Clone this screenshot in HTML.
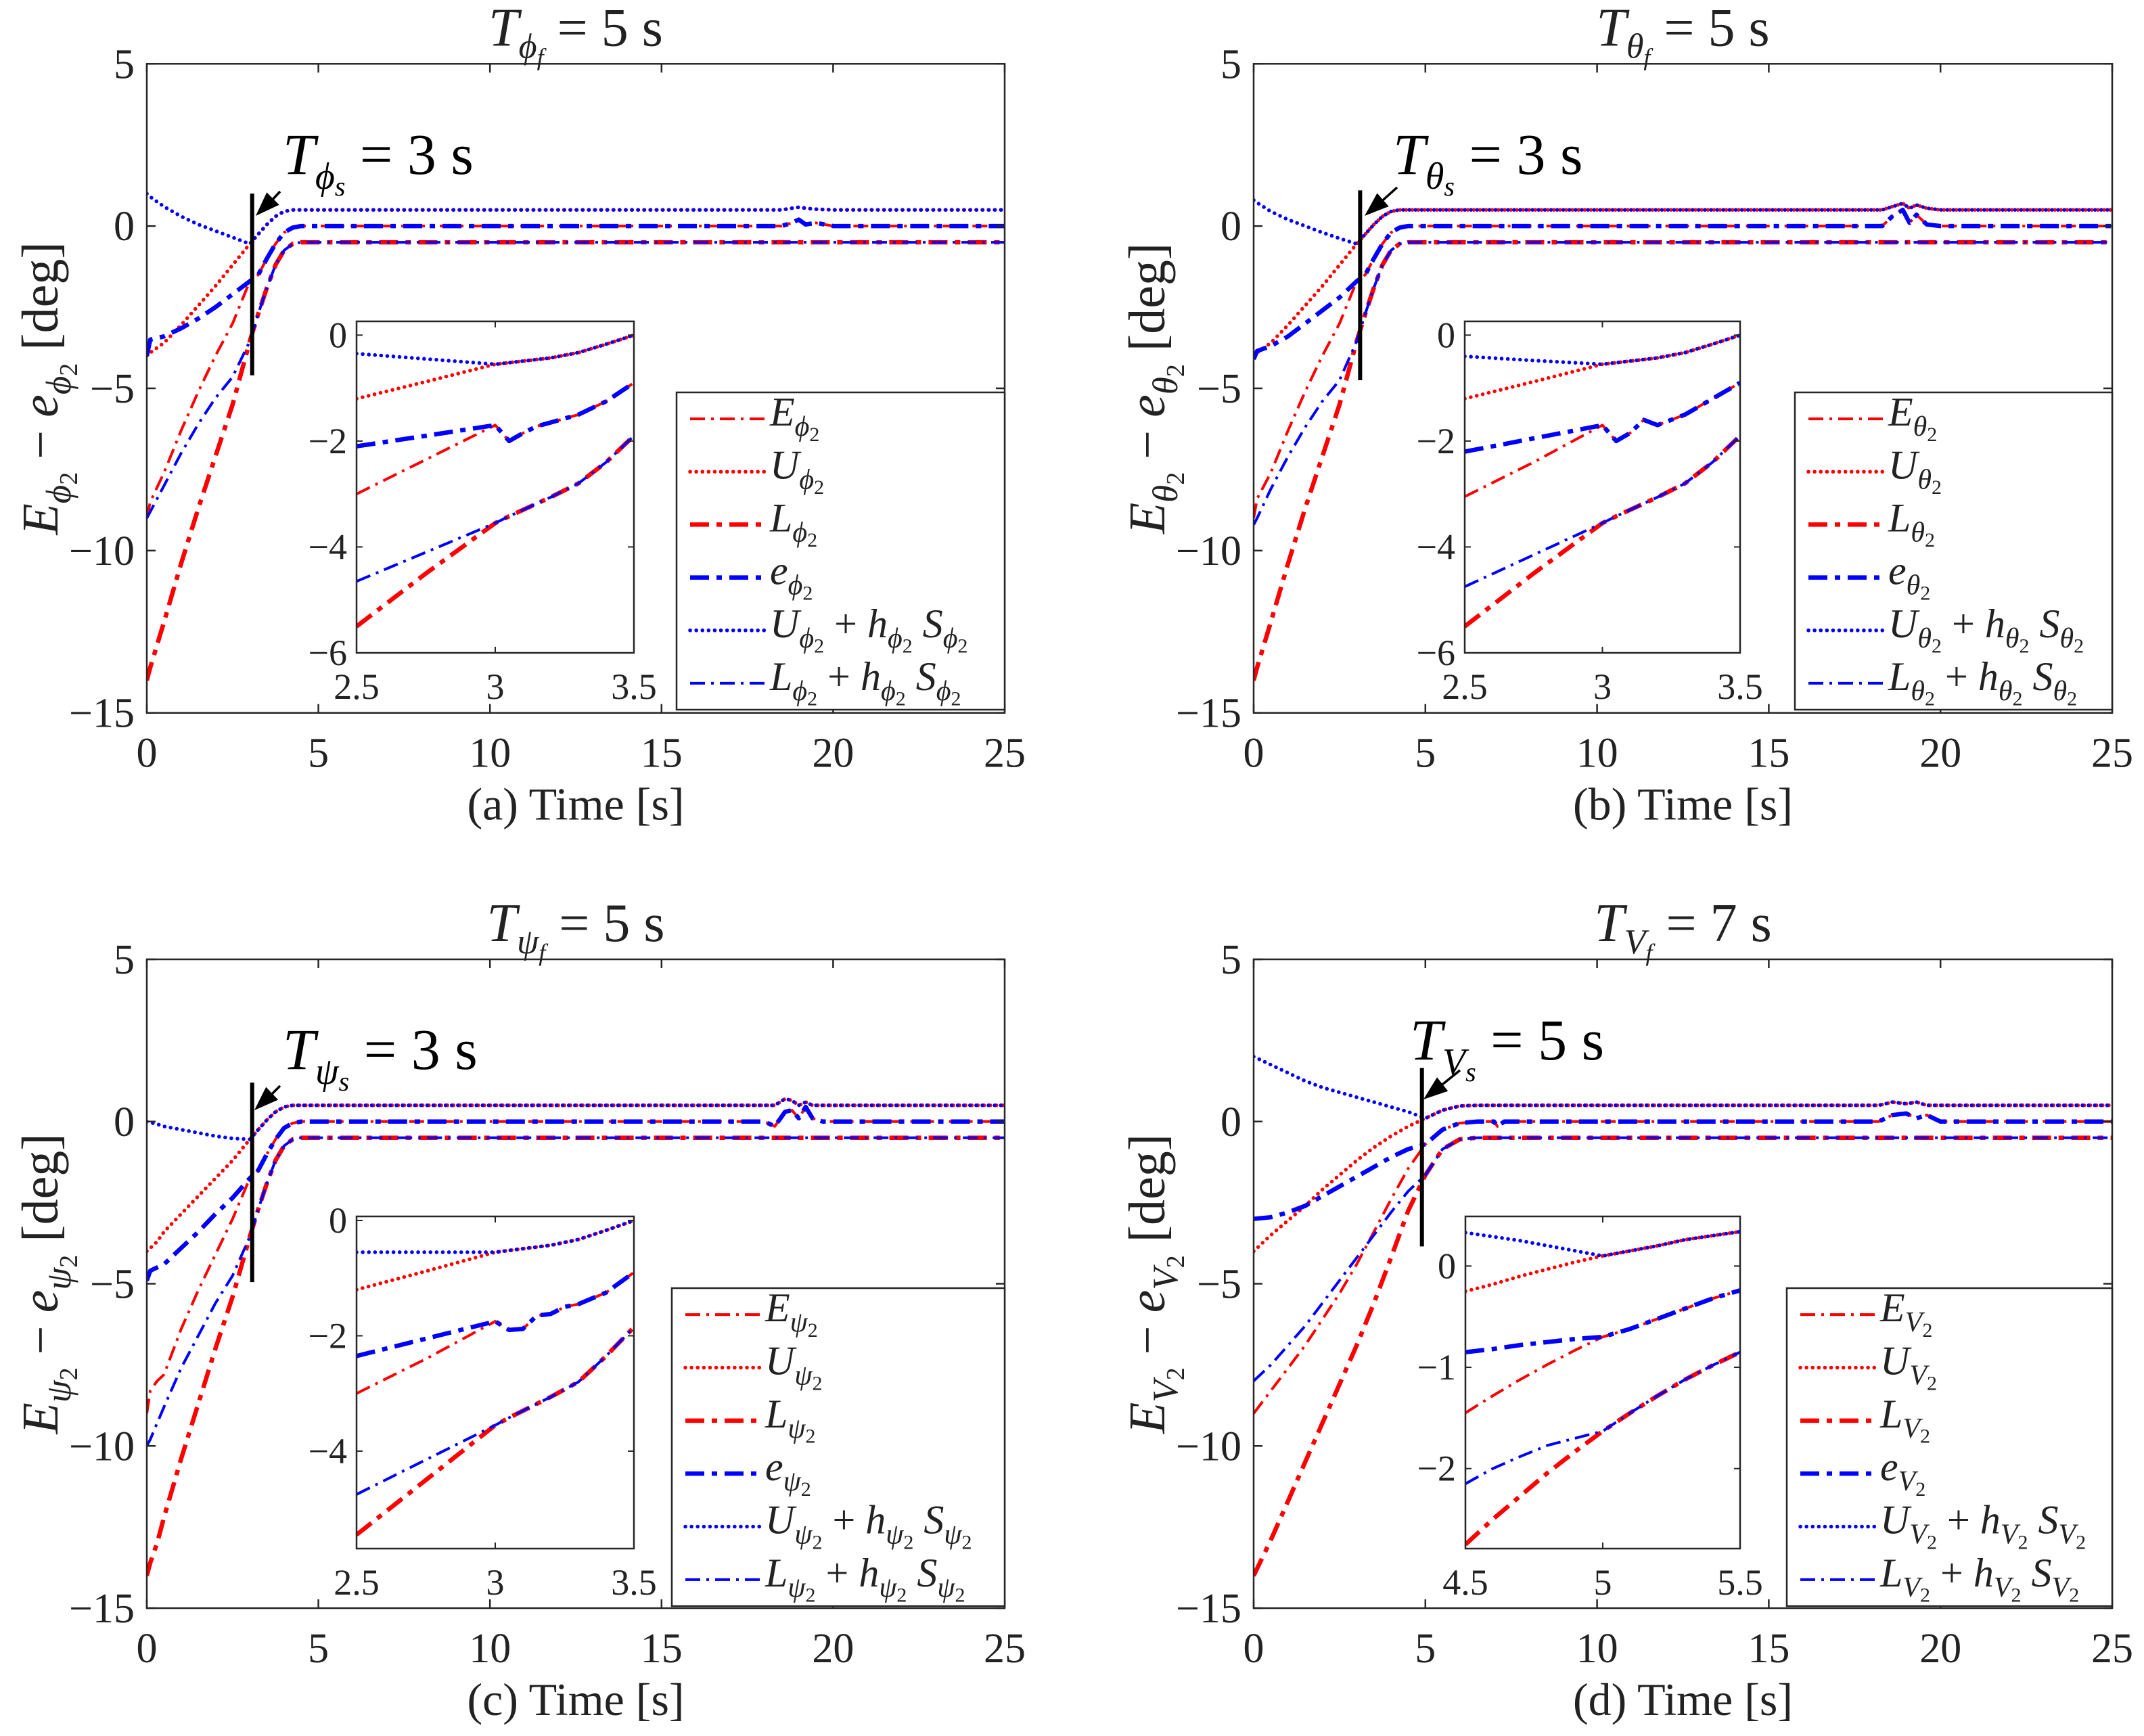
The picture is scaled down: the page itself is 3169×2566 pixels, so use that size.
<!DOCTYPE html>
<html><head><meta charset="utf-8"><style>
html,body{margin:0;padding:0;background:#fff}
svg{display:block}
text{font-family:"Liberation Serif","Times New Roman",serif;fill:#222}
</style></head><body>
<svg id="root" xmlns="http://www.w3.org/2000/svg" width="3169" height="2566" viewBox="0 0 3169 2566" font-family="Liberation Serif, serif"></svg>
<script>
// ---------- DATA ----------
const tA=[0,0.1,0.5,1,1.5,2,2.5,3,3.25,3.5,3.75,4,4.25,4.5,18.5,18.8,19,19.2,19.5,20,25];
const U_A=[-4,-3.9,-3.6,-3.05,-2.45,-1.85,-1.2,-0.55,-0.25,0.05,0.3,0.45,0.5,0.5,0.5,0.55,0.58,0.55,0.52,0.5,0.5];
const UhS_A=[1,0.9,0.6,0.3,0.05,-0.15,-0.35,-0.55,-0.25,0.05,0.3,0.45,0.5,0.5,0.5,0.55,0.58,0.55,0.52,0.5,0.5];
const E_A=[-9,-8.5,-7.6,-6.3,-5.1,-4.0,-3.0,-1.7,-1.5,-1.0,-0.55,-0.2,-0.05,0,0,0.1,0.2,0.05,0.1,0,0];
const e_A=[-4,-3.5,-3.4,-3.15,-2.85,-2.5,-2.1,-1.7,-1.5,-1.0,-0.55,-0.2,-0.05,0,0,0.1,0.2,0.05,0.1,0,0];
const L_A=[-14,-13.6,-12.2,-10.4,-8.7,-7.1,-5.5,-3.55,-2.7,-1.9,-1.2,-0.75,-0.55,-0.5,-0.5,-0.5,-0.5,-0.5,-0.5,-0.5,-0.5];
const LhS_A=[-9,-8.8,-8.0,-7.0,-6.1,-5.3,-4.65,-3.55,-2.7,-1.9,-1.2,-0.75,-0.55,-0.5,-0.5,-0.5,-0.5,-0.5,-0.5,-0.5,-0.5];

const tB=[0,0.1,0.5,1,1.5,2,2.5,3,3.25,3.5,3.75,4,4.25,4.5,18.3,18.6,18.9,19.1,19.3,19.6,20,25];
const U_B=[-4,-3.9,-3.6,-3.05,-2.45,-1.85,-1.2,-0.55,-0.25,0.05,0.3,0.45,0.5,0.5,0.5,0.6,0.7,0.55,0.65,0.55,0.5,0.5];
const UhS_B=[0.8,0.72,0.45,0.2,0,-0.2,-0.38,-0.55,-0.25,0.05,0.3,0.45,0.5,0.5,0.5,0.6,0.7,0.55,0.65,0.55,0.5,0.5];
const E_B=[-9,-8.4,-7.6,-6.3,-5.1,-4.0,-3.0,-1.7,-1.5,-1.0,-0.55,-0.2,-0.05,0,0,0.3,0.5,0.1,0.35,0.05,0,0];
const e_B=[-4.1,-3.85,-3.7,-3.4,-3.0,-2.6,-2.2,-1.7,-1.5,-1.0,-0.55,-0.2,-0.05,0,0,0.3,0.5,0.1,0.35,0.05,0,0];
const L_B=[-14,-13.6,-12.2,-10.4,-8.7,-7.1,-5.5,-3.55,-2.7,-1.9,-1.2,-0.75,-0.55,-0.5,-0.5,-0.5,-0.5,-0.5,-0.5,-0.5,-0.5,-0.5];
const LhS_B=[-9.2,-9.0,-8.1,-7.1,-6.2,-5.4,-4.75,-3.55,-2.7,-1.9,-1.2,-0.75,-0.55,-0.5,-0.5,-0.5,-0.5,-0.5,-0.5,-0.5,-0.5,-0.5];

const tC=[0,0.1,0.3,0.5,1,1.5,2,2.5,3,3.25,3.5,3.75,4,4.25,4.5,18,18.3,18.6,18.8,19,19.2,19.4,19.7,20,25];
const U_C=[-4,-3.9,-3.7,-3.4,-2.85,-2.3,-1.75,-1.2,-0.55,-0.25,0.05,0.3,0.45,0.5,0.5,0.5,0.5,0.7,0.65,0.5,0.6,0.5,0.5,0.5,0.5];
const UhS_C=[0,-0.03,-0.08,-0.15,-0.25,-0.35,-0.45,-0.52,-0.55,-0.25,0.05,0.3,0.45,0.5,0.5,0.5,0.5,0.7,0.65,0.5,0.6,0.5,0.5,0.5,0.5];
const E_C=[-9,-8.3,-8.0,-7.8,-6.4,-5.2,-4.1,-3.0,-1.75,-1.5,-1.0,-0.55,-0.2,-0.05,0,0,-0.15,0.3,0.35,0.1,0.45,0.1,0,0,0];
const e_C=[-4.9,-4.6,-4.5,-4.4,-3.9,-3.4,-2.85,-2.35,-1.75,-1.5,-1.0,-0.55,-0.2,-0.05,0,0,-0.15,0.3,0.35,0.1,0.45,0.1,0,0,0];
const L_C=[-14,-13.6,-13.0,-12.2,-10.4,-8.7,-7.0,-5.4,-3.55,-2.7,-1.9,-1.2,-0.75,-0.55,-0.5,-0.5,-0.5,-0.5,-0.5,-0.5,-0.5,-0.5,-0.5,-0.5,-0.5];
const LhS_C=[-10,-9.8,-9.3,-8.8,-7.6,-6.6,-5.6,-4.75,-3.55,-2.7,-1.9,-1.2,-0.75,-0.55,-0.5,-0.5,-0.5,-0.5,-0.5,-0.5,-0.5,-0.5,-0.5,-0.5,-0.5];

const tD=[0,0.5,1,1.5,2,2.5,3,3.5,4,4.5,5,5.5,6,6.5,7,7.1,7.3,7.5,17,18.2,18.6,19,19.3,19.6,20,25];
const U_D=[-4,-3.5,-3.05,-2.6,-2.1,-1.65,-1.2,-0.8,-0.45,-0.15,0.1,0.35,0.48,0.5,0.5,0.5,0.5,0.5,0.5,0.5,0.6,0.55,0.6,0.5,0.5,0.5];
const UhS_D=[2,1.75,1.5,1.25,1.05,0.9,0.75,0.6,0.45,0.3,0.1,0.35,0.48,0.5,0.5,0.5,0.5,0.5,0.5,0.5,0.6,0.55,0.6,0.5,0.5,0.5];
const E_D=[-9,-8.3,-7.6,-6.9,-6.1,-5.3,-4.4,-3.4,-2.4,-1.45,-0.7,-0.25,-0.05,0,0,-0.15,0,0,0,0,0.2,0.25,0.1,0.2,0,0];
const e_D=[-3,-2.95,-2.8,-2.6,-2.3,-2.0,-1.7,-1.4,-1.1,-0.85,-0.7,-0.25,-0.05,0,0,-0.15,0,0,0,0,0.2,0.25,0.1,0.2,0,0];
const L_D=[-14,-12.9,-11.7,-10.5,-9.3,-8.1,-6.9,-5.6,-4.2,-2.75,-1.65,-0.85,-0.55,-0.5,-0.5,-0.5,-0.5,-0.5,-0.5,-0.5,-0.5,-0.5,-0.5,-0.5,-0.5,-0.5];
const LhS_D=[-8,-7.5,-6.9,-6.3,-5.6,-4.9,-4.2,-3.5,-2.8,-2.15,-1.65,-0.85,-0.55,-0.5,-0.5,-0.5,-0.5,-0.5,-0.5,-0.5,-0.5,-0.5,-0.5,-0.5,-0.5,-0.5];

// insets
const tiA=[2.5,2.75,3,3.05,3.1,3.15,3.2,3.3,3.4,3.5];
const iUhS_A=[-0.35,-0.45,-0.55,-0.52,-0.49,-0.46,-0.43,-0.33,-0.17,0];
const iU_A=[-1.2,-0.88,-0.55,-0.52,-0.49,-0.46,-0.43,-0.33,-0.17,0];
const ie_A=[-2.1,-1.9,-1.7,-2.0,-1.85,-1.72,-1.65,-1.5,-1.25,-0.9];
const iE_A=[-3,-2.35,-1.7,-2.0,-1.85,-1.72,-1.65,-1.5,-1.25,-0.9];
const iLhS_A=[-4.65,-4.1,-3.55,-3.42,-3.3,-3.18,-3.06,-2.8,-2.4,-1.9];
const iL_A=[-5.5,-4.5,-3.55,-3.42,-3.3,-3.18,-3.06,-2.8,-2.4,-1.9];

const tiB=[2.5,2.75,3,3.05,3.1,3.15,3.2,3.3,3.4,3.5];
const iUhS_B=[-0.4,-0.48,-0.55,-0.52,-0.49,-0.46,-0.43,-0.33,-0.17,0];
const iU_B=[-1.2,-0.88,-0.55,-0.52,-0.49,-0.46,-0.43,-0.33,-0.17,0];
const ie_B=[-2.2,-1.95,-1.7,-2.0,-1.85,-1.6,-1.7,-1.5,-1.2,-0.9];
const iE_B=[-3.05,-2.4,-1.7,-2.0,-1.85,-1.6,-1.7,-1.5,-1.2,-0.9];
const iLhS_B=[-4.75,-4.15,-3.55,-3.42,-3.3,-3.18,-3.06,-2.8,-2.4,-1.9];
const iL_B=[-5.5,-4.5,-3.55,-3.42,-3.3,-3.18,-3.06,-2.8,-2.4,-1.9];

const tiC=[2.5,2.75,3,3.05,3.1,3.15,3.2,3.25,3.3,3.4,3.5];
const iUhS_C=[-0.55,-0.55,-0.55,-0.52,-0.49,-0.46,-0.43,-0.38,-0.33,-0.17,0];
const iU_C=[-1.2,-0.88,-0.55,-0.52,-0.49,-0.46,-0.43,-0.38,-0.33,-0.17,0];
const ie_C=[-2.35,-2.05,-1.75,-1.9,-1.88,-1.65,-1.62,-1.5,-1.45,-1.25,-0.9];
const iE_C=[-3.0,-2.4,-1.75,-1.9,-1.88,-1.65,-1.62,-1.5,-1.45,-1.25,-0.9];
const iLhS_C=[-4.75,-4.15,-3.55,-3.42,-3.3,-3.18,-3.06,-2.93,-2.8,-2.35,-1.85];
const iL_C=[-5.45,-4.5,-3.55,-3.42,-3.3,-3.18,-3.06,-2.93,-2.8,-2.35,-1.85];

const tiD=[4.5,4.6,4.7,4.8,4.9,5,5.1,5.2,5.3,5.4,5.5];
const iUhS_D=[0.33,0.29,0.25,0.2,0.15,0.1,0.15,0.2,0.26,0.3,0.34];
const iU_D=[-0.25,-0.18,-0.1,-0.03,0.04,0.1,0.15,0.2,0.26,0.3,0.34];
const ie_D=[-0.85,-0.82,-0.78,-0.75,-0.72,-0.7,-0.62,-0.52,-0.42,-0.32,-0.24];
const iE_D=[-1.45,-1.28,-1.12,-0.97,-0.83,-0.7,-0.62,-0.52,-0.42,-0.32,-0.24];
const iLhS_D=[-2.15,-2.0,-1.88,-1.77,-1.7,-1.63,-1.45,-1.28,-1.12,-0.98,-0.85];
const iL_D=[-2.75,-2.5,-2.27,-2.04,-1.83,-1.63,-1.45,-1.28,-1.12,-0.98,-0.85];

const mainXTicks=[0,5,10,15,20,25];
const mainYTicks=[5,0,-5,-10,-15];

// ---------- DRAWING ----------
const NS="http://www.w3.org/2000/svg";
const root=document.getElementById('root');
function mk(tag,attrs,parent){const el=document.createElementNS(NS,tag);for(const k in attrs)el.setAttribute(k,attrs[k]);(parent||root).appendChild(el);return el;}
const STY={
 E:{stroke:'#ff0000',w:4,dash:'22 9 4 9',cap:'butt'},
 U:{stroke:'#ff0000',w:5.5,dash:'0.1 9',cap:'round'},
 L:{stroke:'#ff0000',w:6.5,dash:'28 11 8 11',cap:'butt'},
 e:{stroke:'#0000ff',w:6.5,dash:'28 11 8 11',cap:'butt'},
 UhS:{stroke:'#0000ff',w:5.5,dash:'0.1 9',cap:'round'},
 LhS:{stroke:'#0000ff',w:4,dash:'22 9 4 9',cap:'butt'}
};
function fmt(v){return (v<0?'\u2212':'')+Math.abs(v);}
function drawLine(ax,ts,vs,key,name,g){
 let d='';
 for(let i=0;i<ts.length;i++){d+=(i?'L':'M')+ax.sx(ts[i]).toFixed(1)+' '+ax.sy(vs[i]).toFixed(1);}
 const s=STY[key];
 const p=mk('path',{d:d,fill:'none',stroke:s.stroke,'stroke-width':s.w,'stroke-dasharray':s.dash,'stroke-linecap':s.cap,'stroke-linejoin':'round'},g);
 
 
}
function axis(x0,x1,y0,y1,xl,yl){return {x0,x1,y0,y1,sx:t=>x0+(t-xl[0])/(xl[1]-xl[0])*(x1-x0),sy:v=>y1-(v-yl[0])/(yl[1]-yl[0])*(y1-y0)};}
function mathLabel(sym,letter,fs){
 const s1=Math.round(fs*0.7), s2=Math.round(fs*0.5);
 return `<tspan font-style="italic">${letter}</tspan><tspan font-size="${s1}" dy="${fs*0.25}" font-style="italic">${sym}</tspan><tspan font-size="${s2}" dy="${fs*0.13}">2</tspan><tspan dy="${-fs*0.38}"> </tspan>`;
}

const panels=[
 {id:'a',sym:'\u03d5',ax:[217,1485,94.3,1053.7],t:tA,E:E_A,U:U_A,L:L_A,e:e_A,UhS:UhS_A,LhS:LhS_A,
  ins:[527,937,475,965],ixl:[2.5,3.5],iyl:[-6,0.26],ixt:[2.5,3,3.5],iyt:[0,-2,-4,-6],it:tiA,iE:iE_A,iU:iU_A,iL:iL_A,ie:ie_A,iUhS:iUhS_A,iLhS:iLhS_A,
  leg:[1000,580,485,469],Ts:3.07,Tsv:[1.0,-4.6],arrow:[414,283,378,319],tsTxt:[418,257],Tf:5,TsVal:3},
 {id:'b',sym:'\u03b8',ax:[1853,3122,94.3,1053.7],t:tB,E:E_B,U:U_B,L:L_B,e:e_B,UhS:UhS_B,LhS:LhS_B,
  ins:[2165,2572,475,965],ixl:[2.5,3.5],iyl:[-6,0.26],ixt:[2.5,3,3.5],iyt:[0,-2,-4,-6],it:tiB,iE:iE_B,iU:iU_B,iL:iL_B,ie:ie_B,iUhS:iUhS_B,iLhS:iLhS_B,
  leg:[2653,580,469,469],Ts:3.1,Tsv:[1.1,-4.75],arrow:[2065,277,2017,319],tsTxt:[2059,257],Tf:5,TsVal:3},
 {id:'c',sym:'\u03c8',ax:[217,1485,1418,2377],t:tC,E:E_C,U:U_C,L:L_C,e:e_C,UhS:UhS_C,LhS:LhS_C,
  ins:[527,937,1798,2289],ixl:[2.5,3.5],iyl:[-5.69,0.07],ixt:[2.5,3,3.5],iyt:[0,-2,-4],it:tiC,iE:iE_C,iU:iU_C,iL:iL_C,ie:ie_C,iUhS:iUhS_C,iLhS:iLhS_C,
  leg:[993,1904,492,470],Ts:3.07,Tsv:[1.2,-4.95],arrow:[414,1605,376,1641],tsTxt:[418,1580],Tf:5,TsVal:3},
 {id:'d',sym:'V',ax:[1853,3122,1418,2377],t:tD,E:E_D,U:U_D,L:L_D,e:e_D,UhS:UhS_D,LhS:LhS_D,
  ins:[2166,2572,1798,2289],ixl:[4.5,5.5],iyl:[-2.79,0.49],ixt:[4.5,5,5.5],iyt:[0,-1,-2],it:tiD,iE:iE_D,iU:iU_D,iL:iL_D,ie:ie_D,iUhS:iUhS_D,iLhS:iLhS_D,
  leg:[2641,1904,481,470],Ts:4.9,Tsv:[1.65,-3.85],arrow:[2158,1582,2104,1625],tsTxt:[2084,1566],Tf:7,TsVal:5}
];
const order=['E','U','L','e','UhS','LhS'];
const seriesNames={E:'E-series',U:'U-upper-bound',L:'L-lower-bound',e:'e-error',UhS:'U-plus-hS',LhS:'L-plus-hS'};

let clipN=0;
panels.forEach(P=>{
 const [x0,x1,y0,y1]=P.ax;
 const A=axis(x0,x1,y0,y1,[0,25],[-15,5]);
 const g=mk('g',{});
 
 
 const cid='clip'+(clipN++);
 const cp=mk('clipPath',{id:cid},g);mk('rect',{x:x0,y:y0,width:x1-x0,height:y1-y0},cp);
 const sg=mk('g',{'clip-path':'url(#'+cid+')'},g);
 order.forEach(k=>drawLine(A,P.t,P[k],k,'series-'+seriesNames[k]+'-'+P.id,sg));
 const fr=mk('rect',{x:x0,y:y0,width:x1-x0,height:y1-y0,fill:'none',stroke:'#262626','stroke-width':2.5},g);
 
 
 mainXTicks.forEach(t=>{
  const X=A.sx(t);
  mk('line',{x1:X,x2:X,y1:y1,y2:y1-13,stroke:'#262626','stroke-width':2.5},g);
  mk('line',{x1:X,x2:X,y1:y0,y2:y0+13,stroke:'#262626','stroke-width':2.5},g);
  const tx=mk('text',{x:X,y:y1+80,'font-size':62,'text-anchor':'middle'},g);tx.textContent=fmt(t);
  
  
 });
 mainYTicks.forEach(v=>{
  const Y=A.sy(v);
  mk('line',{x1:x0,x2:x0+13,y1:Y,y2:Y,stroke:'#262626','stroke-width':2.5},g);
  mk('line',{x1:x1,x2:x1-13,y1:Y,y2:Y,stroke:'#262626','stroke-width':2.5},g);
  const tx=mk('text',{x:x0-18,y:Y+21,'font-size':62,'text-anchor':'end'},g);tx.textContent=fmt(v);
  
  
 });
 const cx=(x0+x1)/2;
 const xl=mk('text',{x:cx,y:y1+158,'font-size':68,'text-anchor':'middle'},g);
 xl.textContent='('+P.id+') Time [s]';
 
 
 const ti=mk('text',{x:cx,y:y0-27,'font-size':80,'text-anchor':'middle'},g);
 ti.innerHTML=`<tspan font-style="italic">T</tspan><tspan font-size="52" dy="18" font-style="italic">${P.sym}</tspan><tspan font-size="36" dy="11" font-style="italic">f</tspan><tspan dy="-29"> = ${P.Tf} s</tspan>`;
 
 
 const yc=(y0+y1)/2, yx=x0-132;
 const yl=mk('text',{x:0,y:0,'font-size':76,'text-anchor':'middle',transform:`translate(${yx},${yc}) rotate(-90)`},g);
 yl.innerHTML=mathLabel(P.sym,'E',76)+'<tspan> \u2212 </tspan>'+mathLabel(P.sym,'e',76)+'<tspan>[deg]</tspan>';
 
 
 const vl=mk('line',{x1:A.sx(P.Ts),x2:A.sx(P.Ts),y1:A.sy(P.Tsv[0]),y2:A.sy(P.Tsv[1]),stroke:'#000','stroke-width':6},g);
 
 
 const [ax1,ay1,ax2,ay2]=P.arrow;
 const ar=mk('line',{x1:ax1,y1:ay1,x2:ax2+8,y2:ay2-6,stroke:'#000','stroke-width':3.5},g);
 
 
 const ang=Math.atan2(ay2-ay1,ax2-ax1),hl=36,hw=13;
 const bx=ax2-hl*Math.cos(ang),by=ay2-hl*Math.sin(ang);
 const ah=mk('polygon',{points:`${ax2},${ay2} ${bx-hw*Math.sin(ang)},${by+hw*Math.cos(ang)} ${bx+hw*Math.sin(ang)},${by-hw*Math.cos(ang)}`,fill:'#000'},g);
 
 
 const at=mk('text',{x:P.tsTxt[0],y:P.tsTxt[1],'font-size':86},g);
 at.innerHTML=`<tspan font-style="italic" fill="#000">T</tspan><tspan font-size="56" dy="22" font-style="italic" fill="#000">${P.sym}</tspan><tspan font-size="40" dy="10" font-style="italic" fill="#000">s</tspan><tspan dy="-32" fill="#000"> = ${P.TsVal} s</tspan>`;
 
 
 // inset
 const [ix0,ix1,iy0,iy1]=P.ins;
 const I=axis(ix0,ix1,iy0,iy1,P.ixl,P.iyl);
 const ig=mk('g',{},g);
 
 
 mk('rect',{x:ix0,y:iy0,width:ix1-ix0,height:iy1-iy0,fill:'#fff',stroke:'none'},ig);
 const cid2='clip'+(clipN++);
 const cp2=mk('clipPath',{id:cid2},ig);mk('rect',{x:ix0,y:iy0,width:ix1-ix0,height:iy1-iy0},cp2);
 const isg=mk('g',{'clip-path':'url(#'+cid2+')'},ig);
 order.forEach(k=>drawLine(I,P.it,P['i'+k],k,'inset-series-'+seriesNames[k]+'-'+P.id,isg));
 mk('rect',{x:ix0,y:iy0,width:ix1-ix0,height:iy1-iy0,fill:'none',stroke:'#262626','stroke-width':2.5},ig);
 P.ixt.forEach(t=>{
  const X=I.sx(t);
  mk('line',{x1:X,x2:X,y1:iy1,y2:iy1-9,stroke:'#262626','stroke-width':2},ig);
  mk('line',{x1:X,x2:X,y1:iy0,y2:iy0+9,stroke:'#262626','stroke-width':2},ig);
  const tx=mk('text',{x:X,y:iy1+68,'font-size':54,'text-anchor':'middle'},ig);tx.textContent=fmt(t);
  
  
 });
 P.iyt.forEach(v=>{
  const Y=I.sy(v);
  mk('line',{x1:ix0,x2:ix0+9,y1:Y,y2:Y,stroke:'#262626','stroke-width':2},ig);
  mk('line',{x1:ix1,x2:ix1-9,y1:Y,y2:Y,stroke:'#262626','stroke-width':2},ig);
  const tx=mk('text',{x:ix0-14,y:Y+18,'font-size':54,'text-anchor':'end'},ig);tx.textContent=fmt(v);
  
  
 });
 // legend
 const [lx,ly,lw,lh]=P.leg;
 const lg=mk('g',{},g);
 
 
 mk('rect',{x:lx,y:ly,width:lw,height:lh,fill:'#fff',stroke:'#262626','stroke-width':2.5},lg);
 const fs=60;
 order.forEach((k,i)=>{
  const cyR=ly+lh*(i+0.5)/6;
  const s=STY[k];
  const sl=mk('line',{x1:lx+20,x2:lx+130,y1:cyR,y2:cyR,stroke:s.stroke,'stroke-width':s.w,'stroke-dasharray':s.dash,'stroke-linecap':s.cap},lg);
  
  
  const tx=mk('text',{x:lx+138,y:cyR+10,'font-size':fs},lg);
  let h='';
  if(k==='E'||k==='U'||k==='L'||k==='e') h=mathLabel(P.sym,k,fs);
  else {
   const base=k==='UhS'?'U':'L';
   h=mathLabel(P.sym,base,fs)+'<tspan>+ </tspan>'+mathLabel(P.sym,'h',fs)+mathLabel(P.sym,'S',fs);
  }
  tx.innerHTML=h;
  
  
 });
});
</script>
</body></html>
